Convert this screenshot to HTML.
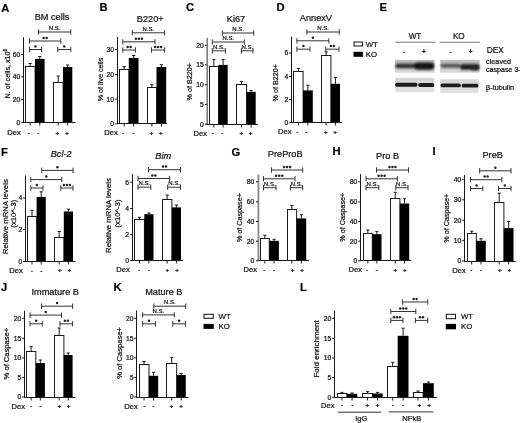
<!DOCTYPE html><html><head><meta charset="utf-8"><style>html,body{margin:0;padding:0;background:#fff;width:520px;height:423px;overflow:hidden}svg{display:block;will-change:transform}text{font-family:"Liberation Sans",sans-serif;stroke:#111;stroke-width:0.22px}</style></head><body>
<svg width="520" height="423" viewBox="0 0 520 423">
<rect width="520" height="423" fill="#fff"/>
<text x="1.3" y="11.5" font-size="11.2" text-anchor="start" font-weight="bold" font-style="normal" fill="#000">A</text>
<text x="99.6" y="11.3" font-size="11.2" text-anchor="start" font-weight="bold" font-style="normal" fill="#000">B</text>
<text x="186" y="11.3" font-size="11.2" text-anchor="start" font-weight="bold" font-style="normal" fill="#000">C</text>
<text x="276.4" y="11.3" font-size="11.2" text-anchor="start" font-weight="bold" font-style="normal" fill="#000">D</text>
<text x="379.5" y="11.3" font-size="11.2" text-anchor="start" font-weight="bold" font-style="normal" fill="#000">E</text>
<line x1="30.2" y1="66.6" x2="30.2" y2="63.5" stroke="#1a1a1a" stroke-width="1"/>
<line x1="28.6" y1="63.5" x2="31.8" y2="63.5" stroke="#1a1a1a" stroke-width="1"/>
<rect x="25.5" y="66.5" width="9.6" height="56" fill="#fff" stroke="#1a1a1a" stroke-width="1"/>
<line x1="30.2" y1="122.5" x2="30.2" y2="125.5" stroke="#1a1a1a" stroke-width="1"/>
<line x1="39.8" y1="58.9" x2="39.8" y2="56.5" stroke="#1a1a1a" stroke-width="1"/>
<line x1="38.2" y1="56.5" x2="41.4" y2="56.5" stroke="#1a1a1a" stroke-width="1"/>
<rect x="35" y="58.9" width="9.6" height="63.6" fill="#000"/>
<line x1="39.8" y1="122.5" x2="39.8" y2="125.5" stroke="#1a1a1a" stroke-width="1"/>
<line x1="58.25" y1="82" x2="58.25" y2="76" stroke="#1a1a1a" stroke-width="1"/>
<line x1="56.65" y1="76" x2="59.85" y2="76" stroke="#1a1a1a" stroke-width="1"/>
<rect x="53.5" y="82.5" width="9.6" height="40" fill="#fff" stroke="#1a1a1a" stroke-width="1"/>
<line x1="58.25" y1="122.5" x2="58.25" y2="125.5" stroke="#1a1a1a" stroke-width="1"/>
<line x1="67.65" y1="67" x2="67.65" y2="65" stroke="#1a1a1a" stroke-width="1"/>
<line x1="66.05" y1="65" x2="69.25" y2="65" stroke="#1a1a1a" stroke-width="1"/>
<rect x="63" y="67" width="9.3" height="55.5" fill="#000"/>
<line x1="67.65" y1="122.5" x2="67.65" y2="125.5" stroke="#1a1a1a" stroke-width="1"/>
<line x1="23.5" y1="37.2" x2="23.5" y2="123" stroke="#1a1a1a" stroke-width="1"/>
<line x1="23" y1="122.5" x2="75.4" y2="122.5" stroke="#1a1a1a" stroke-width="1"/>
<line x1="21.1" y1="122.4" x2="23.5" y2="122.4" stroke="#1a1a1a" stroke-width="1"/>
<text x="20.4" y="124.8" font-size="6.8" text-anchor="end" font-weight="normal" font-style="normal" fill="#111">0</text>
<line x1="21.1" y1="99.6" x2="23.5" y2="99.6" stroke="#1a1a1a" stroke-width="1"/>
<text x="20.4" y="102" font-size="6.8" text-anchor="end" font-weight="normal" font-style="normal" fill="#111">20</text>
<line x1="21.1" y1="76.8" x2="23.5" y2="76.8" stroke="#1a1a1a" stroke-width="1"/>
<text x="20.4" y="79.2" font-size="6.8" text-anchor="end" font-weight="normal" font-style="normal" fill="#111">40</text>
<line x1="21.1" y1="54.6" x2="23.5" y2="54.6" stroke="#1a1a1a" stroke-width="1"/>
<text x="20.4" y="57" font-size="6.8" text-anchor="end" font-weight="normal" font-style="normal" fill="#111">60</text>
<line x1="38.5" y1="32" x2="70.8" y2="32" stroke="#333" stroke-width="1"/>
<line x1="38.5" y1="29.3" x2="38.5" y2="34.7" stroke="#333" stroke-width="1"/>
<line x1="70.8" y1="29.3" x2="70.8" y2="34.7" stroke="#333" stroke-width="1"/>
<text x="54.65" y="30.2" font-size="6" text-anchor="middle" font-weight="normal" font-style="normal" fill="#222">N.S.</text>
<line x1="29.5" y1="41" x2="60.8" y2="41" stroke="#333" stroke-width="1"/>
<line x1="29.5" y1="38.3" x2="29.5" y2="43.7" stroke="#333" stroke-width="1"/>
<line x1="60.8" y1="38.3" x2="60.8" y2="43.7" stroke="#333" stroke-width="1"/>
<circle cx="43.65" cy="37.9" r="1.25" fill="#222"/>
<circle cx="46.65" cy="37.9" r="1.25" fill="#222"/>
<line x1="29.5" y1="49.5" x2="41.5" y2="49.5" stroke="#333" stroke-width="1"/>
<line x1="29.5" y1="46.8" x2="29.5" y2="52.2" stroke="#333" stroke-width="1"/>
<line x1="41.5" y1="46.8" x2="41.5" y2="52.2" stroke="#333" stroke-width="1"/>
<circle cx="35.5" cy="46.4" r="1.25" fill="#222"/>
<line x1="57.7" y1="49.5" x2="70.8" y2="49.5" stroke="#333" stroke-width="1"/>
<line x1="57.7" y1="46.8" x2="57.7" y2="52.2" stroke="#333" stroke-width="1"/>
<line x1="70.8" y1="46.8" x2="70.8" y2="52.2" stroke="#333" stroke-width="1"/>
<circle cx="64.25" cy="46.4" r="1.25" fill="#222"/>
<text x="20.8" y="135.4" font-size="7.6" text-anchor="end" font-weight="normal" font-style="normal" fill="#111">Dex</text>
<text x="28.6" y="134.8" font-size="5.4" text-anchor="middle" font-weight="bold" font-style="normal" fill="#111">-</text>
<text x="38.5" y="134.8" font-size="5.4" text-anchor="middle" font-weight="bold" font-style="normal" fill="#111">-</text>
<text x="57.2" y="134.6" font-size="6.2" text-anchor="middle" font-weight="bold" font-style="normal" fill="#111">+</text>
<text x="67" y="134.6" font-size="6.2" text-anchor="middle" font-weight="bold" font-style="normal" fill="#111">+</text>
<text x="52" y="20.1" font-size="9.2" text-anchor="middle" font-weight="normal" font-style="normal" fill="#111">BM cells</text>
<text transform="translate(7.2,73.6) rotate(-90)" x="0" y="2.59" font-size="7.2" text-anchor="middle" fill="#111">N. of cells, x10<tspan font-size="5" dy="-2.5">6</tspan></text>
<line x1="124.15" y1="69.2" x2="124.15" y2="66.5" stroke="#1a1a1a" stroke-width="1"/>
<line x1="122.55" y1="66.5" x2="125.75" y2="66.5" stroke="#1a1a1a" stroke-width="1"/>
<rect x="119.5" y="69.5" width="9.4" height="54" fill="#fff" stroke="#1a1a1a" stroke-width="1"/>
<line x1="124.15" y1="123.5" x2="124.15" y2="126.5" stroke="#1a1a1a" stroke-width="1"/>
<line x1="133.65" y1="58" x2="133.65" y2="55.5" stroke="#1a1a1a" stroke-width="1"/>
<line x1="132.05" y1="55.5" x2="135.25" y2="55.5" stroke="#1a1a1a" stroke-width="1"/>
<rect x="128.8" y="58" width="9.7" height="65.5" fill="#000"/>
<line x1="133.65" y1="123.5" x2="133.65" y2="126.5" stroke="#1a1a1a" stroke-width="1"/>
<line x1="151.85" y1="87.3" x2="151.85" y2="84.7" stroke="#1a1a1a" stroke-width="1"/>
<line x1="150.25" y1="84.7" x2="153.45" y2="84.7" stroke="#1a1a1a" stroke-width="1"/>
<rect x="147.5" y="87.5" width="9.1" height="36" fill="#fff" stroke="#1a1a1a" stroke-width="1"/>
<line x1="151.85" y1="123.5" x2="151.85" y2="126.5" stroke="#1a1a1a" stroke-width="1"/>
<line x1="161.35" y1="67" x2="161.35" y2="64.7" stroke="#1a1a1a" stroke-width="1"/>
<line x1="159.75" y1="64.7" x2="162.95" y2="64.7" stroke="#1a1a1a" stroke-width="1"/>
<rect x="156.5" y="67" width="9.7" height="56.5" fill="#000"/>
<line x1="161.35" y1="123.5" x2="161.35" y2="126.5" stroke="#1a1a1a" stroke-width="1"/>
<line x1="117.5" y1="37" x2="117.5" y2="124" stroke="#1a1a1a" stroke-width="1"/>
<line x1="117" y1="123.5" x2="166.8" y2="123.5" stroke="#1a1a1a" stroke-width="1"/>
<line x1="115.1" y1="123.8" x2="117.5" y2="123.8" stroke="#1a1a1a" stroke-width="1"/>
<text x="114.1" y="126.2" font-size="6.8" text-anchor="end" font-weight="normal" font-style="normal" fill="#111">0</text>
<line x1="115.1" y1="99.2" x2="117.5" y2="99.2" stroke="#1a1a1a" stroke-width="1"/>
<text x="114.1" y="101.6" font-size="6.8" text-anchor="end" font-weight="normal" font-style="normal" fill="#111">10</text>
<line x1="115.1" y1="74.5" x2="117.5" y2="74.5" stroke="#1a1a1a" stroke-width="1"/>
<text x="114.1" y="76.9" font-size="6.8" text-anchor="end" font-weight="normal" font-style="normal" fill="#111">20</text>
<line x1="115.1" y1="49.6" x2="117.5" y2="49.6" stroke="#1a1a1a" stroke-width="1"/>
<text x="114.1" y="52" font-size="6.8" text-anchor="end" font-weight="normal" font-style="normal" fill="#111">30</text>
<line x1="132.3" y1="32.8" x2="164.6" y2="32.8" stroke="#333" stroke-width="1"/>
<line x1="132.3" y1="30.1" x2="132.3" y2="35.5" stroke="#333" stroke-width="1"/>
<line x1="164.6" y1="30.1" x2="164.6" y2="35.5" stroke="#333" stroke-width="1"/>
<text x="148.45" y="31" font-size="6" text-anchor="middle" font-weight="normal" font-style="normal" fill="#222">N.S.</text>
<line x1="122.8" y1="41.8" x2="155" y2="41.8" stroke="#333" stroke-width="1"/>
<line x1="122.8" y1="39.1" x2="122.8" y2="44.5" stroke="#333" stroke-width="1"/>
<line x1="155" y1="39.1" x2="155" y2="44.5" stroke="#333" stroke-width="1"/>
<circle cx="135.9" cy="38.7" r="1.25" fill="#222"/>
<circle cx="138.9" cy="38.7" r="1.25" fill="#222"/>
<circle cx="141.9" cy="38.7" r="1.25" fill="#222"/>
<line x1="122.8" y1="50" x2="135.4" y2="50" stroke="#333" stroke-width="1"/>
<line x1="122.8" y1="47.3" x2="122.8" y2="52.7" stroke="#333" stroke-width="1"/>
<line x1="135.4" y1="47.3" x2="135.4" y2="52.7" stroke="#333" stroke-width="1"/>
<circle cx="127.6" cy="46.9" r="1.25" fill="#222"/>
<circle cx="130.6" cy="46.9" r="1.25" fill="#222"/>
<line x1="151.5" y1="50" x2="164.6" y2="50" stroke="#333" stroke-width="1"/>
<line x1="151.5" y1="47.3" x2="151.5" y2="52.7" stroke="#333" stroke-width="1"/>
<line x1="164.6" y1="47.3" x2="164.6" y2="52.7" stroke="#333" stroke-width="1"/>
<circle cx="155.05" cy="46.9" r="1.25" fill="#222"/>
<circle cx="158.05" cy="46.9" r="1.25" fill="#222"/>
<circle cx="161.05" cy="46.9" r="1.25" fill="#222"/>
<text x="117.7" y="135.4" font-size="7.6" text-anchor="end" font-weight="normal" font-style="normal" fill="#111">Dex</text>
<text x="123" y="134.8" font-size="5.4" text-anchor="middle" font-weight="bold" font-style="normal" fill="#111">-</text>
<text x="133.5" y="134.8" font-size="5.4" text-anchor="middle" font-weight="bold" font-style="normal" fill="#111">-</text>
<text x="151.5" y="134.6" font-size="6.2" text-anchor="middle" font-weight="bold" font-style="normal" fill="#111">+</text>
<text x="160.8" y="134.6" font-size="6.2" text-anchor="middle" font-weight="bold" font-style="normal" fill="#111">+</text>
<text x="150.2" y="21.5" font-size="9.2" text-anchor="middle" font-weight="normal" font-style="normal" fill="#111">B220+</text>
<text transform="translate(100.2,79.5) rotate(-90)" x="0" y="2.59" font-size="7.2" text-anchor="middle" fill="#111">% of live cells</text>
<line x1="213.85" y1="66.6" x2="213.85" y2="59.5" stroke="#1a1a1a" stroke-width="1"/>
<line x1="212.25" y1="59.5" x2="215.45" y2="59.5" stroke="#1a1a1a" stroke-width="1"/>
<rect x="209.5" y="66.5" width="9.1" height="58" fill="#fff" stroke="#1a1a1a" stroke-width="1"/>
<line x1="213.85" y1="124.5" x2="213.85" y2="127.5" stroke="#1a1a1a" stroke-width="1"/>
<line x1="223.1" y1="64.9" x2="223.1" y2="59.5" stroke="#1a1a1a" stroke-width="1"/>
<line x1="221.5" y1="59.5" x2="224.7" y2="59.5" stroke="#1a1a1a" stroke-width="1"/>
<rect x="218.5" y="64.9" width="9.2" height="59.6" fill="#000"/>
<line x1="223.1" y1="124.5" x2="223.1" y2="127.5" stroke="#1a1a1a" stroke-width="1"/>
<line x1="241.55" y1="84.5" x2="241.55" y2="81.5" stroke="#1a1a1a" stroke-width="1"/>
<line x1="239.95" y1="81.5" x2="243.15" y2="81.5" stroke="#1a1a1a" stroke-width="1"/>
<rect x="236.5" y="84.5" width="10.1" height="40" fill="#fff" stroke="#1a1a1a" stroke-width="1"/>
<line x1="241.55" y1="124.5" x2="241.55" y2="127.5" stroke="#1a1a1a" stroke-width="1"/>
<line x1="251.1" y1="91.9" x2="251.1" y2="90.5" stroke="#1a1a1a" stroke-width="1"/>
<line x1="249.5" y1="90.5" x2="252.7" y2="90.5" stroke="#1a1a1a" stroke-width="1"/>
<rect x="246.5" y="91.9" width="9.2" height="32.6" fill="#000"/>
<line x1="251.1" y1="124.5" x2="251.1" y2="127.5" stroke="#1a1a1a" stroke-width="1"/>
<line x1="207.2" y1="37.7" x2="207.2" y2="125" stroke="#777" stroke-width="1.5"/>
<line x1="206.7" y1="124.5" x2="258" y2="124.5" stroke="#1a1a1a" stroke-width="1"/>
<line x1="204.8" y1="124.2" x2="207.2" y2="124.2" stroke="#1a1a1a" stroke-width="1"/>
<text x="203.7" y="126.6" font-size="6.8" text-anchor="end" font-weight="normal" font-style="normal" fill="#111">0</text>
<line x1="204.8" y1="104.4" x2="207.2" y2="104.4" stroke="#1a1a1a" stroke-width="1"/>
<text x="203.7" y="106.8" font-size="6.8" text-anchor="end" font-weight="normal" font-style="normal" fill="#111">5</text>
<line x1="204.8" y1="84.7" x2="207.2" y2="84.7" stroke="#1a1a1a" stroke-width="1"/>
<text x="203.7" y="87.1" font-size="6.8" text-anchor="end" font-weight="normal" font-style="normal" fill="#111">10</text>
<line x1="204.8" y1="64.9" x2="207.2" y2="64.9" stroke="#1a1a1a" stroke-width="1"/>
<text x="203.7" y="67.3" font-size="6.8" text-anchor="end" font-weight="normal" font-style="normal" fill="#111">15</text>
<line x1="204.8" y1="45.3" x2="207.2" y2="45.3" stroke="#1a1a1a" stroke-width="1"/>
<text x="203.7" y="47.7" font-size="6.8" text-anchor="end" font-weight="normal" font-style="normal" fill="#111">20</text>
<line x1="222.3" y1="33" x2="253.8" y2="33" stroke="#333" stroke-width="1"/>
<line x1="222.3" y1="30.3" x2="222.3" y2="35.7" stroke="#333" stroke-width="1"/>
<line x1="253.8" y1="30.3" x2="253.8" y2="35.7" stroke="#333" stroke-width="1"/>
<text x="238.05" y="31.2" font-size="6" text-anchor="middle" font-weight="normal" font-style="normal" fill="#222">N.S.</text>
<line x1="212.3" y1="42" x2="244.3" y2="42" stroke="#333" stroke-width="1"/>
<line x1="212.3" y1="39.3" x2="212.3" y2="44.7" stroke="#333" stroke-width="1"/>
<line x1="244.3" y1="39.3" x2="244.3" y2="44.7" stroke="#333" stroke-width="1"/>
<text x="228.3" y="40.2" font-size="6" text-anchor="middle" font-weight="normal" font-style="normal" fill="#222">N.S.</text>
<line x1="212.3" y1="50.8" x2="225.4" y2="50.8" stroke="#333" stroke-width="1"/>
<line x1="212.3" y1="48.1" x2="212.3" y2="53.5" stroke="#333" stroke-width="1"/>
<line x1="225.4" y1="48.1" x2="225.4" y2="53.5" stroke="#333" stroke-width="1"/>
<text x="218.85" y="49" font-size="6" text-anchor="middle" font-weight="normal" font-style="normal" fill="#222">N.S.</text>
<line x1="241.5" y1="50.8" x2="253" y2="50.8" stroke="#333" stroke-width="1"/>
<line x1="241.5" y1="48.1" x2="241.5" y2="53.5" stroke="#333" stroke-width="1"/>
<line x1="253" y1="48.1" x2="253" y2="53.5" stroke="#333" stroke-width="1"/>
<text x="247.25" y="49" font-size="6" text-anchor="middle" font-weight="normal" font-style="normal" fill="#222">N.S.</text>
<text x="207" y="135.8" font-size="7.6" text-anchor="end" font-weight="normal" font-style="normal" fill="#111">Dex</text>
<text x="212.6" y="135.2" font-size="5.4" text-anchor="middle" font-weight="bold" font-style="normal" fill="#111">-</text>
<text x="222.3" y="135.2" font-size="5.4" text-anchor="middle" font-weight="bold" font-style="normal" fill="#111">-</text>
<text x="241.2" y="135" font-size="6.2" text-anchor="middle" font-weight="bold" font-style="normal" fill="#111">+</text>
<text x="250.5" y="135" font-size="6.2" text-anchor="middle" font-weight="bold" font-style="normal" fill="#111">+</text>
<text x="236" y="22" font-size="9.2" text-anchor="middle" font-weight="normal" font-style="normal" fill="#111">Ki67</text>
<text transform="translate(189.8,81.8) rotate(-90)" x="0" y="2.59" font-size="7.2" text-anchor="middle" fill="#111">% of B220+</text>
<line x1="298.4" y1="71.9" x2="298.4" y2="68.4" stroke="#1a1a1a" stroke-width="1"/>
<line x1="296.8" y1="68.4" x2="300" y2="68.4" stroke="#1a1a1a" stroke-width="1"/>
<rect x="293.5" y="71.5" width="9.6" height="51" fill="#fff" stroke="#1a1a1a" stroke-width="1"/>
<line x1="298.4" y1="122.5" x2="298.4" y2="125.5" stroke="#1a1a1a" stroke-width="1"/>
<line x1="307.9" y1="90.4" x2="307.9" y2="85.3" stroke="#1a1a1a" stroke-width="1"/>
<line x1="306.3" y1="85.3" x2="309.5" y2="85.3" stroke="#1a1a1a" stroke-width="1"/>
<rect x="303" y="90.4" width="9.8" height="32.1" fill="#000"/>
<line x1="307.9" y1="122.5" x2="307.9" y2="125.5" stroke="#1a1a1a" stroke-width="1"/>
<line x1="326.15" y1="55.5" x2="326.15" y2="51.9" stroke="#1a1a1a" stroke-width="1"/>
<line x1="324.55" y1="51.9" x2="327.75" y2="51.9" stroke="#1a1a1a" stroke-width="1"/>
<rect x="321.5" y="55.5" width="9.4" height="67" fill="#fff" stroke="#1a1a1a" stroke-width="1"/>
<line x1="326.15" y1="122.5" x2="326.15" y2="125.5" stroke="#1a1a1a" stroke-width="1"/>
<line x1="335.4" y1="83.8" x2="335.4" y2="77.6" stroke="#1a1a1a" stroke-width="1"/>
<line x1="333.8" y1="77.6" x2="337" y2="77.6" stroke="#1a1a1a" stroke-width="1"/>
<rect x="330.8" y="83.8" width="9.2" height="38.7" fill="#000"/>
<line x1="335.4" y1="122.5" x2="335.4" y2="125.5" stroke="#1a1a1a" stroke-width="1"/>
<line x1="291.5" y1="36.5" x2="291.5" y2="123" stroke="#1a1a1a" stroke-width="1"/>
<line x1="291" y1="122.5" x2="342" y2="122.5" stroke="#1a1a1a" stroke-width="1"/>
<line x1="289.1" y1="122.6" x2="291.5" y2="122.6" stroke="#1a1a1a" stroke-width="1"/>
<text x="288.3" y="125" font-size="6.8" text-anchor="end" font-weight="normal" font-style="normal" fill="#111">0</text>
<line x1="289.1" y1="99.6" x2="291.5" y2="99.6" stroke="#1a1a1a" stroke-width="1"/>
<text x="288.3" y="102" font-size="6.8" text-anchor="end" font-weight="normal" font-style="normal" fill="#111">2</text>
<line x1="289.1" y1="76.4" x2="291.5" y2="76.4" stroke="#1a1a1a" stroke-width="1"/>
<text x="288.3" y="78.8" font-size="6.8" text-anchor="end" font-weight="normal" font-style="normal" fill="#111">4</text>
<line x1="289.1" y1="53" x2="291.5" y2="53" stroke="#1a1a1a" stroke-width="1"/>
<text x="288.3" y="55.4" font-size="6.8" text-anchor="end" font-weight="normal" font-style="normal" fill="#111">6</text>
<line x1="306.9" y1="32" x2="339.2" y2="32" stroke="#333" stroke-width="1"/>
<line x1="306.9" y1="29.3" x2="306.9" y2="34.7" stroke="#333" stroke-width="1"/>
<line x1="339.2" y1="29.3" x2="339.2" y2="34.7" stroke="#333" stroke-width="1"/>
<text x="323.05" y="30.2" font-size="6" text-anchor="middle" font-weight="normal" font-style="normal" fill="#222">N.S.</text>
<line x1="296.9" y1="40.8" x2="328.9" y2="40.8" stroke="#333" stroke-width="1"/>
<line x1="296.9" y1="38.1" x2="296.9" y2="43.5" stroke="#333" stroke-width="1"/>
<line x1="328.9" y1="38.1" x2="328.9" y2="43.5" stroke="#333" stroke-width="1"/>
<circle cx="312.9" cy="37.7" r="1.25" fill="#222"/>
<line x1="296.9" y1="49.2" x2="310" y2="49.2" stroke="#333" stroke-width="1"/>
<line x1="296.9" y1="46.5" x2="296.9" y2="51.9" stroke="#333" stroke-width="1"/>
<line x1="310" y1="46.5" x2="310" y2="51.9" stroke="#333" stroke-width="1"/>
<circle cx="303.45" cy="46.1" r="1.25" fill="#222"/>
<line x1="325.8" y1="49.2" x2="339" y2="49.2" stroke="#333" stroke-width="1"/>
<line x1="325.8" y1="46.5" x2="325.8" y2="51.9" stroke="#333" stroke-width="1"/>
<line x1="339" y1="46.5" x2="339" y2="51.9" stroke="#333" stroke-width="1"/>
<circle cx="330.9" cy="46.1" r="1.25" fill="#222"/>
<circle cx="333.9" cy="46.1" r="1.25" fill="#222"/>
<text x="291.5" y="134.4" font-size="7.6" text-anchor="end" font-weight="normal" font-style="normal" fill="#111">Dex</text>
<text x="297.3" y="133.8" font-size="5.4" text-anchor="middle" font-weight="bold" font-style="normal" fill="#111">-</text>
<text x="306.5" y="133.8" font-size="5.4" text-anchor="middle" font-weight="bold" font-style="normal" fill="#111">-</text>
<text x="325.8" y="133.6" font-size="6.2" text-anchor="middle" font-weight="bold" font-style="normal" fill="#111">+</text>
<text x="335" y="133.6" font-size="6.2" text-anchor="middle" font-weight="bold" font-style="normal" fill="#111">+</text>
<text x="315.9" y="21.2" font-size="9.2" text-anchor="middle" font-weight="normal" font-style="normal" fill="#111">AnnexV</text>
<text transform="translate(275.2,82.7) rotate(-90)" x="0" y="2.59" font-size="7.2" text-anchor="middle" fill="#111">% of B220+</text>
<rect x="354" y="42" width="8.4" height="4" fill="#fff" stroke="#111" stroke-width="1"/>
<rect x="353.5" y="51.8" width="9.4" height="5" fill="#000"/>
<text x="365.7" y="46.9" font-size="7.8" text-anchor="start" font-weight="normal" font-style="normal" fill="#111">WT</text>
<text x="365.7" y="57.2" font-size="7.8" text-anchor="start" font-weight="normal" font-style="normal" fill="#111">KO</text>
<text x="415" y="38.6" font-size="8.2" text-anchor="middle" font-weight="normal" font-style="normal" fill="#111">WT</text>
<text x="458.8" y="38.8" font-size="8.2" text-anchor="middle" font-weight="normal" font-style="normal" fill="#111">KO</text>
<line x1="395.4" y1="42.2" x2="435.4" y2="42.2" stroke="#777" stroke-width="1"/>
<line x1="439.5" y1="42.3" x2="479.8" y2="42.3" stroke="#777" stroke-width="1"/>
<text x="403.8" y="53.6" font-size="6" text-anchor="middle" font-weight="bold" font-style="normal" fill="#111">-</text>
<text x="423.8" y="54" font-size="6.4" text-anchor="middle" font-weight="bold" font-style="normal" fill="#111">+</text>
<text x="450.4" y="53.6" font-size="6" text-anchor="middle" font-weight="bold" font-style="normal" fill="#111">-</text>
<text x="470.7" y="54" font-size="6.4" text-anchor="middle" font-weight="bold" font-style="normal" fill="#111">+</text>
<text x="486.8" y="53.2" font-size="8.2" text-anchor="start" font-weight="normal" font-style="normal" fill="#111">DEX</text>
<text x="486" y="64.4" font-size="7.3" text-anchor="start" font-weight="normal" font-style="normal" fill="#111">cleaved</text>
<text x="486" y="72.4" font-size="7.1" text-anchor="start" font-weight="normal" font-style="normal" fill="#111">caspase 3-</text>
<text x="486" y="90" font-size="7.3" text-anchor="start" font-weight="normal" font-style="normal" fill="#111">&#946;-tubulin</text>
<defs><filter id="bl" x="-20%" y="-50%" width="140%" height="200%"><feGaussianBlur stdDeviation="1.1"/></filter><filter id="bl2" x="-20%" y="-50%" width="140%" height="200%"><feGaussianBlur stdDeviation="0.75"/></filter></defs>
<defs><linearGradient id="g1" x1="0" y1="0" x2="0" y2="1"><stop offset="0" stop-color="#bdbdbd"/><stop offset="0.5" stop-color="#c6c6c6"/><stop offset="1" stop-color="#dcdcdc"/></linearGradient><linearGradient id="g2" x1="0" y1="0" x2="0" y2="1"><stop offset="0" stop-color="#d4d4d4"/><stop offset="1" stop-color="#e2e2e2"/></linearGradient></defs>
<rect x="395" y="59.8" width="39.4" height="13" fill="url(#g1)"/>
<rect x="440.2" y="59.8" width="39.4" height="13" fill="url(#g1)"/>
<rect x="395" y="77.8" width="39.4" height="14.4" fill="url(#g2)"/>
<rect x="440.2" y="79.3" width="38.6" height="13.8" fill="url(#g2)"/>
<g filter="url(#bl)">
<rect x="395.4" y="63.6" width="22" height="4.6" rx="2" fill="#363636"/>
<rect x="414.2" y="62.4" width="20" height="7.4" rx="3.2" fill="#121212"/>
<rect x="440.6" y="63.8" width="20" height="3.9" rx="1.8" fill="#575757"/>
<rect x="460.2" y="64.0" width="19.2" height="5.8" rx="2.6" fill="#202020"/>
<rect x="470" y="64.6" width="9.4" height="6.0" rx="2" fill="#202020"/>
</g>
<g filter="url(#bl2)">
<rect x="395.3" y="82.8" width="22" height="4" rx="1.5" fill="#1c1c1c"/>
<rect x="418.4" y="82.9" width="15.8" height="4" rx="1.5" fill="#1c1c1c"/>
<rect x="440.5" y="83.6" width="20.2" height="3.7" rx="1.5" fill="#1e1e1e"/>
<rect x="461.6" y="83.8" width="16.8" height="3.7" rx="1.5" fill="#1e1e1e"/>
</g>
<text x="1" y="155.7" font-size="11.2" text-anchor="start" font-weight="bold" font-style="normal" fill="#000">F</text>
<text x="231.5" y="155.8" font-size="11.2" text-anchor="start" font-weight="bold" font-style="normal" fill="#000">G</text>
<text x="332.6" y="155.1" font-size="11.2" text-anchor="start" font-weight="bold" font-style="normal" fill="#000">H</text>
<text x="432.6" y="155.3" font-size="11.2" text-anchor="start" font-weight="bold" font-style="normal" fill="#000">I</text>
<line x1="32" y1="216.5" x2="32" y2="210.3" stroke="#1a1a1a" stroke-width="1"/>
<line x1="30.4" y1="210.3" x2="33.6" y2="210.3" stroke="#1a1a1a" stroke-width="1"/>
<rect x="27.5" y="216.5" width="9.2" height="45" fill="#fff" stroke="#1a1a1a" stroke-width="1"/>
<line x1="32" y1="261.5" x2="32" y2="264.5" stroke="#1a1a1a" stroke-width="1"/>
<line x1="41.2" y1="196.9" x2="41.2" y2="191.8" stroke="#1a1a1a" stroke-width="1"/>
<line x1="39.6" y1="191.8" x2="42.8" y2="191.8" stroke="#1a1a1a" stroke-width="1"/>
<rect x="36.6" y="196.9" width="9.2" height="64.6" fill="#000"/>
<line x1="41.2" y1="261.5" x2="41.2" y2="264.5" stroke="#1a1a1a" stroke-width="1"/>
<line x1="59.2" y1="237.4" x2="59.2" y2="231.5" stroke="#1a1a1a" stroke-width="1"/>
<line x1="57.6" y1="231.5" x2="60.8" y2="231.5" stroke="#1a1a1a" stroke-width="1"/>
<rect x="54.5" y="237.5" width="9.4" height="24" fill="#fff" stroke="#1a1a1a" stroke-width="1"/>
<line x1="59.2" y1="261.5" x2="59.2" y2="264.5" stroke="#1a1a1a" stroke-width="1"/>
<line x1="68.4" y1="211.5" x2="68.4" y2="209.2" stroke="#1a1a1a" stroke-width="1"/>
<line x1="66.8" y1="209.2" x2="70" y2="209.2" stroke="#1a1a1a" stroke-width="1"/>
<rect x="63.8" y="211.5" width="9.2" height="50" fill="#000"/>
<line x1="68.4" y1="261.5" x2="68.4" y2="264.5" stroke="#1a1a1a" stroke-width="1"/>
<line x1="25.5" y1="175.5" x2="25.5" y2="262" stroke="#1a1a1a" stroke-width="1"/>
<line x1="25" y1="261.5" x2="75.4" y2="261.5" stroke="#1a1a1a" stroke-width="1"/>
<line x1="23.1" y1="261.5" x2="25.5" y2="261.5" stroke="#1a1a1a" stroke-width="1"/>
<text x="22.4" y="263.9" font-size="6.8" text-anchor="end" font-weight="normal" font-style="normal" fill="#111">0</text>
<line x1="23.1" y1="229.7" x2="25.5" y2="229.7" stroke="#1a1a1a" stroke-width="1"/>
<text x="22.4" y="232.1" font-size="6.8" text-anchor="end" font-weight="normal" font-style="normal" fill="#111">2</text>
<line x1="23.1" y1="198" x2="25.5" y2="198" stroke="#1a1a1a" stroke-width="1"/>
<text x="22.4" y="200.4" font-size="6.8" text-anchor="end" font-weight="normal" font-style="normal" fill="#111">4</text>
<line x1="41.8" y1="170.4" x2="73" y2="170.4" stroke="#333" stroke-width="1"/>
<line x1="41.8" y1="167.7" x2="41.8" y2="173.1" stroke="#333" stroke-width="1"/>
<line x1="73" y1="167.7" x2="73" y2="173.1" stroke="#333" stroke-width="1"/>
<circle cx="57.4" cy="167.3" r="1.25" fill="#222"/>
<line x1="30.8" y1="179.6" x2="61.8" y2="179.6" stroke="#333" stroke-width="1"/>
<line x1="30.8" y1="176.9" x2="30.8" y2="182.3" stroke="#333" stroke-width="1"/>
<line x1="61.8" y1="176.9" x2="61.8" y2="182.3" stroke="#333" stroke-width="1"/>
<circle cx="46.3" cy="176.5" r="1.25" fill="#222"/>
<line x1="30.8" y1="188" x2="43" y2="188" stroke="#333" stroke-width="1"/>
<line x1="30.8" y1="185.3" x2="30.8" y2="190.7" stroke="#333" stroke-width="1"/>
<line x1="43" y1="185.3" x2="43" y2="190.7" stroke="#333" stroke-width="1"/>
<circle cx="36.9" cy="184.9" r="1.25" fill="#222"/>
<line x1="60.8" y1="188" x2="73" y2="188" stroke="#333" stroke-width="1"/>
<line x1="60.8" y1="185.3" x2="60.8" y2="190.7" stroke="#333" stroke-width="1"/>
<line x1="73" y1="185.3" x2="73" y2="190.7" stroke="#333" stroke-width="1"/>
<circle cx="63.9" cy="184.9" r="1.25" fill="#222"/>
<circle cx="66.9" cy="184.9" r="1.25" fill="#222"/>
<circle cx="69.9" cy="184.9" r="1.25" fill="#222"/>
<text x="22.8" y="273.2" font-size="7.6" text-anchor="end" font-weight="normal" font-style="normal" fill="#111">Dex</text>
<text x="32" y="272.6" font-size="5.4" text-anchor="middle" font-weight="bold" font-style="normal" fill="#111">-</text>
<text x="41.5" y="272.6" font-size="5.4" text-anchor="middle" font-weight="bold" font-style="normal" fill="#111">-</text>
<text x="59.7" y="272.4" font-size="6.2" text-anchor="middle" font-weight="bold" font-style="normal" fill="#111">+</text>
<text x="69.2" y="272.4" font-size="6.2" text-anchor="middle" font-weight="bold" font-style="normal" fill="#111">+</text>
<text x="61.2" y="157.3" font-size="9.2" text-anchor="middle" font-weight="normal" font-style="italic" fill="#111">Bcl-2</text>
<text transform="translate(5.1,216.7) rotate(-90)" x="0" y="2.81" font-size="7.8" text-anchor="middle" fill="#111">Relative mRNA levels</text>
<text transform="translate(13.6,213.7) rotate(-90)" x="0" y="2.77" font-size="7.7" text-anchor="middle" fill="#111">(x10^-3)</text>
<line x1="139.45" y1="219.3" x2="139.45" y2="217.3" stroke="#1a1a1a" stroke-width="1"/>
<line x1="137.85" y1="217.3" x2="141.05" y2="217.3" stroke="#1a1a1a" stroke-width="1"/>
<rect x="134.5" y="219.5" width="9.9" height="41" fill="#fff" stroke="#1a1a1a" stroke-width="1"/>
<line x1="139.45" y1="260.5" x2="139.45" y2="263.5" stroke="#1a1a1a" stroke-width="1"/>
<line x1="148.9" y1="214.2" x2="148.9" y2="213" stroke="#1a1a1a" stroke-width="1"/>
<line x1="147.3" y1="213" x2="150.5" y2="213" stroke="#1a1a1a" stroke-width="1"/>
<rect x="144.3" y="214.2" width="9.2" height="46.3" fill="#000"/>
<line x1="148.9" y1="260.5" x2="148.9" y2="263.5" stroke="#1a1a1a" stroke-width="1"/>
<line x1="167.15" y1="199.2" x2="167.15" y2="195" stroke="#1a1a1a" stroke-width="1"/>
<line x1="165.55" y1="195" x2="168.75" y2="195" stroke="#1a1a1a" stroke-width="1"/>
<rect x="162.5" y="199.5" width="9.4" height="61" fill="#fff" stroke="#1a1a1a" stroke-width="1"/>
<line x1="167.15" y1="260.5" x2="167.15" y2="263.5" stroke="#1a1a1a" stroke-width="1"/>
<line x1="176.4" y1="207.4" x2="176.4" y2="205" stroke="#1a1a1a" stroke-width="1"/>
<line x1="174.8" y1="205" x2="178" y2="205" stroke="#1a1a1a" stroke-width="1"/>
<rect x="171.8" y="207.4" width="9.2" height="53.1" fill="#000"/>
<line x1="176.4" y1="260.5" x2="176.4" y2="263.5" stroke="#1a1a1a" stroke-width="1"/>
<line x1="132.5" y1="173.9" x2="132.5" y2="261" stroke="#1a1a1a" stroke-width="1"/>
<line x1="132" y1="260.5" x2="183" y2="260.5" stroke="#1a1a1a" stroke-width="1"/>
<line x1="130.1" y1="260.6" x2="132.5" y2="260.6" stroke="#1a1a1a" stroke-width="1"/>
<text x="129" y="263" font-size="6.8" text-anchor="end" font-weight="normal" font-style="normal" fill="#111">0</text>
<line x1="130.1" y1="234.6" x2="132.5" y2="234.6" stroke="#1a1a1a" stroke-width="1"/>
<text x="129" y="237" font-size="6.8" text-anchor="end" font-weight="normal" font-style="normal" fill="#111">2</text>
<line x1="130.1" y1="208.5" x2="132.5" y2="208.5" stroke="#1a1a1a" stroke-width="1"/>
<text x="129" y="210.9" font-size="6.8" text-anchor="end" font-weight="normal" font-style="normal" fill="#111">4</text>
<line x1="130.1" y1="182.2" x2="132.5" y2="182.2" stroke="#1a1a1a" stroke-width="1"/>
<text x="129" y="184.6" font-size="6.8" text-anchor="end" font-weight="normal" font-style="normal" fill="#111">6</text>
<line x1="148.5" y1="169.7" x2="180.5" y2="169.7" stroke="#333" stroke-width="1"/>
<line x1="148.5" y1="167" x2="148.5" y2="172.4" stroke="#333" stroke-width="1"/>
<line x1="180.5" y1="167" x2="180.5" y2="172.4" stroke="#333" stroke-width="1"/>
<circle cx="163" cy="166.6" r="1.25" fill="#222"/>
<circle cx="166" cy="166.6" r="1.25" fill="#222"/>
<line x1="138" y1="178.5" x2="169.7" y2="178.5" stroke="#333" stroke-width="1"/>
<line x1="138" y1="175.8" x2="138" y2="181.2" stroke="#333" stroke-width="1"/>
<line x1="169.7" y1="175.8" x2="169.7" y2="181.2" stroke="#333" stroke-width="1"/>
<circle cx="152.35" cy="175.4" r="1.25" fill="#222"/>
<circle cx="155.35" cy="175.4" r="1.25" fill="#222"/>
<line x1="138" y1="187.2" x2="150.8" y2="187.2" stroke="#333" stroke-width="1"/>
<line x1="138" y1="184.5" x2="138" y2="189.9" stroke="#333" stroke-width="1"/>
<line x1="150.8" y1="184.5" x2="150.8" y2="189.9" stroke="#333" stroke-width="1"/>
<text x="144.4" y="185.4" font-size="6" text-anchor="middle" font-weight="normal" font-style="normal" fill="#222">N.S.</text>
<line x1="167.7" y1="187.2" x2="180.5" y2="187.2" stroke="#333" stroke-width="1"/>
<line x1="167.7" y1="184.5" x2="167.7" y2="189.9" stroke="#333" stroke-width="1"/>
<line x1="180.5" y1="184.5" x2="180.5" y2="189.9" stroke="#333" stroke-width="1"/>
<text x="174.1" y="185.4" font-size="6" text-anchor="middle" font-weight="normal" font-style="normal" fill="#222">N.S.</text>
<text x="129.8" y="272.4" font-size="7.6" text-anchor="end" font-weight="normal" font-style="normal" fill="#111">Dex</text>
<text x="138.8" y="271.8" font-size="5.4" text-anchor="middle" font-weight="bold" font-style="normal" fill="#111">-</text>
<text x="149" y="271.8" font-size="5.4" text-anchor="middle" font-weight="bold" font-style="normal" fill="#111">-</text>
<text x="167.3" y="271.6" font-size="6.2" text-anchor="middle" font-weight="bold" font-style="normal" fill="#111">+</text>
<text x="177" y="271.6" font-size="6.2" text-anchor="middle" font-weight="bold" font-style="normal" fill="#111">+</text>
<text x="163.2" y="158.5" font-size="9.2" text-anchor="middle" font-weight="normal" font-style="italic" fill="#111">Bim</text>
<text transform="translate(108.6,215.5) rotate(-90)" x="0" y="2.81" font-size="7.8" text-anchor="middle" fill="#111">Relative mRNA levels</text>
<text transform="translate(116.9,213.5) rotate(-90)" x="0" y="2.77" font-size="7.7" text-anchor="middle" fill="#111">(x10^-3)</text>
<line x1="264.85" y1="238.4" x2="264.85" y2="235.3" stroke="#1a1a1a" stroke-width="1"/>
<line x1="263.25" y1="235.3" x2="266.45" y2="235.3" stroke="#1a1a1a" stroke-width="1"/>
<rect x="260.5" y="238.5" width="8.8" height="22" fill="#fff" stroke="#1a1a1a" stroke-width="1"/>
<line x1="264.85" y1="260.5" x2="264.85" y2="263.5" stroke="#1a1a1a" stroke-width="1"/>
<line x1="274.05" y1="240.8" x2="274.05" y2="239.3" stroke="#1a1a1a" stroke-width="1"/>
<line x1="272.45" y1="239.3" x2="275.65" y2="239.3" stroke="#1a1a1a" stroke-width="1"/>
<rect x="269.2" y="240.8" width="9.7" height="19.7" fill="#000"/>
<line x1="274.05" y1="260.5" x2="274.05" y2="263.5" stroke="#1a1a1a" stroke-width="1"/>
<line x1="291.85" y1="209.6" x2="291.85" y2="205.5" stroke="#1a1a1a" stroke-width="1"/>
<line x1="290.25" y1="205.5" x2="293.45" y2="205.5" stroke="#1a1a1a" stroke-width="1"/>
<rect x="287.5" y="209.5" width="9.1" height="51" fill="#fff" stroke="#1a1a1a" stroke-width="1"/>
<line x1="291.85" y1="260.5" x2="291.85" y2="263.5" stroke="#1a1a1a" stroke-width="1"/>
<line x1="301.35" y1="218.4" x2="301.35" y2="214.7" stroke="#1a1a1a" stroke-width="1"/>
<line x1="299.75" y1="214.7" x2="302.95" y2="214.7" stroke="#1a1a1a" stroke-width="1"/>
<rect x="296.5" y="218.4" width="9.7" height="42.1" fill="#000"/>
<line x1="301.35" y1="260.5" x2="301.35" y2="263.5" stroke="#1a1a1a" stroke-width="1"/>
<line x1="258.4" y1="174.6" x2="258.4" y2="261" stroke="#888" stroke-width="1.8"/>
<line x1="257.9" y1="260.5" x2="308.9" y2="260.5" stroke="#1a1a1a" stroke-width="1"/>
<line x1="256" y1="260.8" x2="258.4" y2="260.8" stroke="#1a1a1a" stroke-width="1"/>
<text x="254.2" y="263.2" font-size="6.8" text-anchor="end" font-weight="normal" font-style="normal" fill="#111">0</text>
<line x1="256" y1="241.2" x2="258.4" y2="241.2" stroke="#1a1a1a" stroke-width="1"/>
<text x="254.2" y="243.6" font-size="6.8" text-anchor="end" font-weight="normal" font-style="normal" fill="#111">20</text>
<line x1="256" y1="221.5" x2="258.4" y2="221.5" stroke="#1a1a1a" stroke-width="1"/>
<text x="254.2" y="223.9" font-size="6.8" text-anchor="end" font-weight="normal" font-style="normal" fill="#111">40</text>
<line x1="256" y1="201.9" x2="258.4" y2="201.9" stroke="#1a1a1a" stroke-width="1"/>
<text x="254.2" y="204.3" font-size="6.8" text-anchor="end" font-weight="normal" font-style="normal" fill="#111">60</text>
<line x1="256" y1="181.8" x2="258.4" y2="181.8" stroke="#1a1a1a" stroke-width="1"/>
<text x="254.2" y="184.2" font-size="6.8" text-anchor="end" font-weight="normal" font-style="normal" fill="#111">80</text>
<line x1="271.5" y1="170" x2="302.7" y2="170" stroke="#333" stroke-width="1"/>
<line x1="271.5" y1="167.3" x2="271.5" y2="172.7" stroke="#333" stroke-width="1"/>
<line x1="302.7" y1="167.3" x2="302.7" y2="172.7" stroke="#333" stroke-width="1"/>
<circle cx="284.1" cy="166.9" r="1.25" fill="#222"/>
<circle cx="287.1" cy="166.9" r="1.25" fill="#222"/>
<circle cx="290.1" cy="166.9" r="1.25" fill="#222"/>
<line x1="263.5" y1="178.8" x2="295" y2="178.8" stroke="#333" stroke-width="1"/>
<line x1="263.5" y1="176.1" x2="263.5" y2="181.5" stroke="#333" stroke-width="1"/>
<line x1="295" y1="176.1" x2="295" y2="181.5" stroke="#333" stroke-width="1"/>
<circle cx="276.25" cy="175.7" r="1.25" fill="#222"/>
<circle cx="279.25" cy="175.7" r="1.25" fill="#222"/>
<circle cx="282.25" cy="175.7" r="1.25" fill="#222"/>
<line x1="263.5" y1="187.7" x2="276" y2="187.7" stroke="#333" stroke-width="1"/>
<line x1="263.5" y1="185" x2="263.5" y2="190.4" stroke="#333" stroke-width="1"/>
<line x1="276" y1="185" x2="276" y2="190.4" stroke="#333" stroke-width="1"/>
<text x="269.75" y="185.9" font-size="6" text-anchor="middle" font-weight="normal" font-style="normal" fill="#222">N.S.</text>
<line x1="290.4" y1="187.7" x2="302.7" y2="187.7" stroke="#333" stroke-width="1"/>
<line x1="290.4" y1="185" x2="290.4" y2="190.4" stroke="#333" stroke-width="1"/>
<line x1="302.7" y1="185" x2="302.7" y2="190.4" stroke="#333" stroke-width="1"/>
<text x="296.55" y="185.9" font-size="6" text-anchor="middle" font-weight="normal" font-style="normal" fill="#222">N.S.</text>
<text x="257" y="272.4" font-size="7.6" text-anchor="end" font-weight="normal" font-style="normal" fill="#111">Dex</text>
<text x="264.4" y="271.8" font-size="5.4" text-anchor="middle" font-weight="bold" font-style="normal" fill="#111">-</text>
<text x="274" y="271.8" font-size="5.4" text-anchor="middle" font-weight="bold" font-style="normal" fill="#111">-</text>
<text x="292.5" y="271.6" font-size="6.2" text-anchor="middle" font-weight="bold" font-style="normal" fill="#111">+</text>
<text x="302" y="271.6" font-size="6.2" text-anchor="middle" font-weight="bold" font-style="normal" fill="#111">+</text>
<text x="285.2" y="156.6" font-size="9.2" text-anchor="middle" font-weight="normal" font-style="normal" fill="#111">PreProB</text>
<text transform="translate(239.6,217.6) rotate(-90)" x="0" y="2.59" font-size="7.2" text-anchor="middle" fill="#111">% of Caspase+</text>
<line x1="367.85" y1="233.2" x2="367.85" y2="230" stroke="#1a1a1a" stroke-width="1"/>
<line x1="366.25" y1="230" x2="369.45" y2="230" stroke="#1a1a1a" stroke-width="1"/>
<rect x="363.5" y="233.5" width="8.8" height="27" fill="#fff" stroke="#1a1a1a" stroke-width="1"/>
<line x1="367.85" y1="260.5" x2="367.85" y2="263.5" stroke="#1a1a1a" stroke-width="1"/>
<line x1="376.85" y1="234.2" x2="376.85" y2="231.6" stroke="#1a1a1a" stroke-width="1"/>
<line x1="375.25" y1="231.6" x2="378.45" y2="231.6" stroke="#1a1a1a" stroke-width="1"/>
<rect x="372.2" y="234.2" width="9.3" height="26.3" fill="#000"/>
<line x1="376.85" y1="260.5" x2="376.85" y2="263.5" stroke="#1a1a1a" stroke-width="1"/>
<line x1="395.25" y1="198.1" x2="395.25" y2="192.3" stroke="#1a1a1a" stroke-width="1"/>
<line x1="393.65" y1="192.3" x2="396.85" y2="192.3" stroke="#1a1a1a" stroke-width="1"/>
<rect x="390.5" y="198.5" width="9.4" height="62" fill="#fff" stroke="#1a1a1a" stroke-width="1"/>
<line x1="395.25" y1="260.5" x2="395.25" y2="263.5" stroke="#1a1a1a" stroke-width="1"/>
<line x1="404.5" y1="203.5" x2="404.5" y2="198.8" stroke="#1a1a1a" stroke-width="1"/>
<line x1="402.9" y1="198.8" x2="406.1" y2="198.8" stroke="#1a1a1a" stroke-width="1"/>
<rect x="399.8" y="203.5" width="9.4" height="57" fill="#000"/>
<line x1="404.5" y1="260.5" x2="404.5" y2="263.5" stroke="#1a1a1a" stroke-width="1"/>
<line x1="360.5" y1="174.2" x2="360.5" y2="261" stroke="#1a1a1a" stroke-width="1"/>
<line x1="360" y1="260.5" x2="411.3" y2="260.5" stroke="#1a1a1a" stroke-width="1"/>
<line x1="358.1" y1="260.8" x2="360.5" y2="260.8" stroke="#1a1a1a" stroke-width="1"/>
<text x="357.4" y="263.2" font-size="6.8" text-anchor="end" font-weight="normal" font-style="normal" fill="#111">0</text>
<line x1="358.1" y1="241.2" x2="360.5" y2="241.2" stroke="#1a1a1a" stroke-width="1"/>
<text x="357.4" y="243.6" font-size="6.8" text-anchor="end" font-weight="normal" font-style="normal" fill="#111">20</text>
<line x1="358.1" y1="221.5" x2="360.5" y2="221.5" stroke="#1a1a1a" stroke-width="1"/>
<text x="357.4" y="223.9" font-size="6.8" text-anchor="end" font-weight="normal" font-style="normal" fill="#111">40</text>
<line x1="358.1" y1="201.9" x2="360.5" y2="201.9" stroke="#1a1a1a" stroke-width="1"/>
<text x="357.4" y="204.3" font-size="6.8" text-anchor="end" font-weight="normal" font-style="normal" fill="#111">60</text>
<line x1="358.1" y1="181.8" x2="360.5" y2="181.8" stroke="#1a1a1a" stroke-width="1"/>
<text x="357.4" y="184.2" font-size="6.8" text-anchor="end" font-weight="normal" font-style="normal" fill="#111">80</text>
<line x1="376.5" y1="170" x2="408.5" y2="170" stroke="#333" stroke-width="1"/>
<line x1="376.5" y1="167.3" x2="376.5" y2="172.7" stroke="#333" stroke-width="1"/>
<line x1="408.5" y1="167.3" x2="408.5" y2="172.7" stroke="#333" stroke-width="1"/>
<circle cx="389.5" cy="166.9" r="1.25" fill="#222"/>
<circle cx="392.5" cy="166.9" r="1.25" fill="#222"/>
<circle cx="395.5" cy="166.9" r="1.25" fill="#222"/>
<line x1="366" y1="178.8" x2="397.3" y2="178.8" stroke="#333" stroke-width="1"/>
<line x1="366" y1="176.1" x2="366" y2="181.5" stroke="#333" stroke-width="1"/>
<line x1="397.3" y1="176.1" x2="397.3" y2="181.5" stroke="#333" stroke-width="1"/>
<circle cx="378.65" cy="175.7" r="1.25" fill="#222"/>
<circle cx="381.65" cy="175.7" r="1.25" fill="#222"/>
<circle cx="384.65" cy="175.7" r="1.25" fill="#222"/>
<line x1="366" y1="187.7" x2="378.8" y2="187.7" stroke="#333" stroke-width="1"/>
<line x1="366" y1="185" x2="366" y2="190.4" stroke="#333" stroke-width="1"/>
<line x1="378.8" y1="185" x2="378.8" y2="190.4" stroke="#333" stroke-width="1"/>
<text x="372.4" y="185.9" font-size="6" text-anchor="middle" font-weight="normal" font-style="normal" fill="#222">N.S.</text>
<line x1="395.8" y1="187.7" x2="408" y2="187.7" stroke="#333" stroke-width="1"/>
<line x1="395.8" y1="185" x2="395.8" y2="190.4" stroke="#333" stroke-width="1"/>
<line x1="408" y1="185" x2="408" y2="190.4" stroke="#333" stroke-width="1"/>
<text x="401.9" y="185.9" font-size="6" text-anchor="middle" font-weight="normal" font-style="normal" fill="#222">N.S.</text>
<text x="362" y="272.4" font-size="7.6" text-anchor="end" font-weight="normal" font-style="normal" fill="#111">Dex</text>
<text x="367.2" y="271.8" font-size="5.4" text-anchor="middle" font-weight="bold" font-style="normal" fill="#111">-</text>
<text x="376.7" y="271.8" font-size="5.4" text-anchor="middle" font-weight="bold" font-style="normal" fill="#111">-</text>
<text x="395.4" y="271.6" font-size="6.2" text-anchor="middle" font-weight="bold" font-style="normal" fill="#111">+</text>
<text x="404.7" y="271.6" font-size="6.2" text-anchor="middle" font-weight="bold" font-style="normal" fill="#111">+</text>
<text x="387.6" y="159.2" font-size="9.2" text-anchor="middle" font-weight="normal" font-style="normal" fill="#111">Pro B</text>
<text transform="translate(342.5,217.2) rotate(-90)" x="0" y="2.59" font-size="7.2" text-anchor="middle" fill="#111">% of Caspase+</text>
<line x1="471.7" y1="233.8" x2="471.7" y2="231.2" stroke="#1a1a1a" stroke-width="1"/>
<line x1="470.1" y1="231.2" x2="473.3" y2="231.2" stroke="#1a1a1a" stroke-width="1"/>
<rect x="467.5" y="233.5" width="8.8" height="28" fill="#fff" stroke="#1a1a1a" stroke-width="1"/>
<line x1="471.7" y1="261.5" x2="471.7" y2="264.5" stroke="#1a1a1a" stroke-width="1"/>
<line x1="481" y1="240.8" x2="481" y2="238.8" stroke="#1a1a1a" stroke-width="1"/>
<line x1="479.4" y1="238.8" x2="482.6" y2="238.8" stroke="#1a1a1a" stroke-width="1"/>
<rect x="476.2" y="240.8" width="9.6" height="20.7" fill="#000"/>
<line x1="481" y1="261.5" x2="481" y2="264.5" stroke="#1a1a1a" stroke-width="1"/>
<line x1="499.2" y1="202.3" x2="499.2" y2="193.1" stroke="#1a1a1a" stroke-width="1"/>
<line x1="497.6" y1="193.1" x2="500.8" y2="193.1" stroke="#1a1a1a" stroke-width="1"/>
<rect x="494.5" y="202.5" width="9.4" height="59" fill="#fff" stroke="#1a1a1a" stroke-width="1"/>
<line x1="499.2" y1="261.5" x2="499.2" y2="264.5" stroke="#1a1a1a" stroke-width="1"/>
<line x1="508.65" y1="228.1" x2="508.65" y2="221.5" stroke="#1a1a1a" stroke-width="1"/>
<line x1="507.05" y1="221.5" x2="510.25" y2="221.5" stroke="#1a1a1a" stroke-width="1"/>
<rect x="503.8" y="228.1" width="9.7" height="33.4" fill="#000"/>
<line x1="508.65" y1="261.5" x2="508.65" y2="264.5" stroke="#1a1a1a" stroke-width="1"/>
<line x1="464.5" y1="175" x2="464.5" y2="262" stroke="#1a1a1a" stroke-width="1"/>
<line x1="464" y1="261.5" x2="515.7" y2="261.5" stroke="#1a1a1a" stroke-width="1"/>
<line x1="462.1" y1="261" x2="464.5" y2="261" stroke="#1a1a1a" stroke-width="1"/>
<text x="461.4" y="263.4" font-size="6.8" text-anchor="end" font-weight="normal" font-style="normal" fill="#111">0</text>
<line x1="462.1" y1="240.7" x2="464.5" y2="240.7" stroke="#1a1a1a" stroke-width="1"/>
<text x="461.4" y="243.1" font-size="6.8" text-anchor="end" font-weight="normal" font-style="normal" fill="#111">10</text>
<line x1="462.1" y1="220.3" x2="464.5" y2="220.3" stroke="#1a1a1a" stroke-width="1"/>
<text x="461.4" y="222.7" font-size="6.8" text-anchor="end" font-weight="normal" font-style="normal" fill="#111">20</text>
<line x1="462.1" y1="199.8" x2="464.5" y2="199.8" stroke="#1a1a1a" stroke-width="1"/>
<text x="461.4" y="202.2" font-size="6.8" text-anchor="end" font-weight="normal" font-style="normal" fill="#111">30</text>
<line x1="462.1" y1="179.3" x2="464.5" y2="179.3" stroke="#1a1a1a" stroke-width="1"/>
<text x="461.4" y="181.7" font-size="6.8" text-anchor="end" font-weight="normal" font-style="normal" fill="#111">40</text>
<line x1="479.7" y1="170.8" x2="511" y2="170.8" stroke="#333" stroke-width="1"/>
<line x1="479.7" y1="168.1" x2="479.7" y2="173.5" stroke="#333" stroke-width="1"/>
<line x1="511" y1="168.1" x2="511" y2="173.5" stroke="#333" stroke-width="1"/>
<circle cx="495.35" cy="167.7" r="1.25" fill="#222"/>
<line x1="470.5" y1="179.7" x2="501.8" y2="179.7" stroke="#333" stroke-width="1"/>
<line x1="470.5" y1="177" x2="470.5" y2="182.4" stroke="#333" stroke-width="1"/>
<line x1="501.8" y1="177" x2="501.8" y2="182.4" stroke="#333" stroke-width="1"/>
<circle cx="484.65" cy="176.6" r="1.25" fill="#222"/>
<circle cx="487.65" cy="176.6" r="1.25" fill="#222"/>
<line x1="470.5" y1="188.5" x2="482.8" y2="188.5" stroke="#333" stroke-width="1"/>
<line x1="470.5" y1="185.8" x2="470.5" y2="191.2" stroke="#333" stroke-width="1"/>
<line x1="482.8" y1="185.8" x2="482.8" y2="191.2" stroke="#333" stroke-width="1"/>
<circle cx="476.65" cy="185.4" r="1.25" fill="#222"/>
<line x1="498.5" y1="188.5" x2="511" y2="188.5" stroke="#333" stroke-width="1"/>
<line x1="498.5" y1="185.8" x2="498.5" y2="191.2" stroke="#333" stroke-width="1"/>
<line x1="511" y1="185.8" x2="511" y2="191.2" stroke="#333" stroke-width="1"/>
<circle cx="504.75" cy="185.4" r="1.25" fill="#222"/>
<text x="465.8" y="272.8" font-size="7.6" text-anchor="end" font-weight="normal" font-style="normal" fill="#111">Dex</text>
<text x="471.5" y="272.2" font-size="5.4" text-anchor="middle" font-weight="bold" font-style="normal" fill="#111">-</text>
<text x="481.2" y="272.2" font-size="5.4" text-anchor="middle" font-weight="bold" font-style="normal" fill="#111">-</text>
<text x="499.7" y="272" font-size="6.2" text-anchor="middle" font-weight="bold" font-style="normal" fill="#111">+</text>
<text x="509.2" y="272" font-size="6.2" text-anchor="middle" font-weight="bold" font-style="normal" fill="#111">+</text>
<text x="492.7" y="158.2" font-size="9.2" text-anchor="middle" font-weight="normal" font-style="normal" fill="#111">PreB</text>
<text transform="translate(446.5,218.2) rotate(-90)" x="0" y="2.59" font-size="7.2" text-anchor="middle" fill="#111">% of Caspase+</text>
<text x="1" y="291.1" font-size="11.2" text-anchor="start" font-weight="bold" font-style="normal" fill="#000">J</text>
<text x="113.5" y="290.8" font-size="11.2" text-anchor="start" font-weight="bold" font-style="normal" fill="#000">K</text>
<text x="300" y="290.8" font-size="11.2" text-anchor="start" font-weight="bold" font-style="normal" fill="#000">L</text>
<line x1="31.1" y1="351.2" x2="31.1" y2="346.6" stroke="#1a1a1a" stroke-width="1"/>
<line x1="29.5" y1="346.6" x2="32.7" y2="346.6" stroke="#1a1a1a" stroke-width="1"/>
<rect x="26.5" y="351.5" width="9.3" height="46" fill="#fff" stroke="#1a1a1a" stroke-width="1"/>
<line x1="31.1" y1="397.5" x2="31.1" y2="400.5" stroke="#1a1a1a" stroke-width="1"/>
<line x1="40.3" y1="363" x2="40.3" y2="360" stroke="#1a1a1a" stroke-width="1"/>
<line x1="38.7" y1="360" x2="41.9" y2="360" stroke="#1a1a1a" stroke-width="1"/>
<rect x="35.7" y="363" width="9.2" height="34.5" fill="#000"/>
<line x1="40.3" y1="397.5" x2="40.3" y2="400.5" stroke="#1a1a1a" stroke-width="1"/>
<line x1="59.2" y1="335.4" x2="59.2" y2="328" stroke="#1a1a1a" stroke-width="1"/>
<line x1="57.6" y1="328" x2="60.8" y2="328" stroke="#1a1a1a" stroke-width="1"/>
<rect x="54.5" y="335.5" width="9.4" height="62" fill="#fff" stroke="#1a1a1a" stroke-width="1"/>
<line x1="59.2" y1="397.5" x2="59.2" y2="400.5" stroke="#1a1a1a" stroke-width="1"/>
<line x1="68.2" y1="355" x2="68.2" y2="353" stroke="#1a1a1a" stroke-width="1"/>
<line x1="66.6" y1="353" x2="69.8" y2="353" stroke="#1a1a1a" stroke-width="1"/>
<rect x="63.8" y="355" width="8.8" height="42.5" fill="#000"/>
<line x1="68.2" y1="397.5" x2="68.2" y2="400.5" stroke="#1a1a1a" stroke-width="1"/>
<line x1="24.5" y1="310.8" x2="24.5" y2="398" stroke="#1a1a1a" stroke-width="1"/>
<line x1="24" y1="397.5" x2="75.4" y2="397.5" stroke="#1a1a1a" stroke-width="1"/>
<line x1="22.1" y1="397" x2="24.5" y2="397" stroke="#1a1a1a" stroke-width="1"/>
<text x="21.3" y="399.4" font-size="6.8" text-anchor="end" font-weight="normal" font-style="normal" fill="#111">0</text>
<line x1="22.1" y1="377.5" x2="24.5" y2="377.5" stroke="#1a1a1a" stroke-width="1"/>
<text x="21.3" y="379.9" font-size="6.8" text-anchor="end" font-weight="normal" font-style="normal" fill="#111">5</text>
<line x1="22.1" y1="357.9" x2="24.5" y2="357.9" stroke="#1a1a1a" stroke-width="1"/>
<text x="21.3" y="360.3" font-size="6.8" text-anchor="end" font-weight="normal" font-style="normal" fill="#111">10</text>
<line x1="22.1" y1="338.3" x2="24.5" y2="338.3" stroke="#1a1a1a" stroke-width="1"/>
<text x="21.3" y="340.7" font-size="6.8" text-anchor="end" font-weight="normal" font-style="normal" fill="#111">15</text>
<line x1="22.1" y1="318.3" x2="24.5" y2="318.3" stroke="#1a1a1a" stroke-width="1"/>
<text x="21.3" y="320.7" font-size="6.8" text-anchor="end" font-weight="normal" font-style="normal" fill="#111">20</text>
<line x1="41.5" y1="306.2" x2="72.6" y2="306.2" stroke="#333" stroke-width="1"/>
<line x1="41.5" y1="303.5" x2="41.5" y2="308.9" stroke="#333" stroke-width="1"/>
<line x1="72.6" y1="303.5" x2="72.6" y2="308.9" stroke="#333" stroke-width="1"/>
<circle cx="57.05" cy="303.1" r="1.25" fill="#222"/>
<line x1="30" y1="315.1" x2="61.5" y2="315.1" stroke="#333" stroke-width="1"/>
<line x1="30" y1="312.4" x2="30" y2="317.8" stroke="#333" stroke-width="1"/>
<line x1="61.5" y1="312.4" x2="61.5" y2="317.8" stroke="#333" stroke-width="1"/>
<circle cx="45.75" cy="312" r="1.25" fill="#222"/>
<line x1="30" y1="323.8" x2="42.3" y2="323.8" stroke="#333" stroke-width="1"/>
<line x1="30" y1="321.1" x2="30" y2="326.5" stroke="#333" stroke-width="1"/>
<line x1="42.3" y1="321.1" x2="42.3" y2="326.5" stroke="#333" stroke-width="1"/>
<circle cx="36.15" cy="320.7" r="1.25" fill="#222"/>
<line x1="60" y1="323.8" x2="72.6" y2="323.8" stroke="#333" stroke-width="1"/>
<line x1="60" y1="321.1" x2="60" y2="326.5" stroke="#333" stroke-width="1"/>
<line x1="72.6" y1="321.1" x2="72.6" y2="326.5" stroke="#333" stroke-width="1"/>
<circle cx="64.8" cy="320.7" r="1.25" fill="#222"/>
<circle cx="67.8" cy="320.7" r="1.25" fill="#222"/>
<text x="25" y="408.8" font-size="7.6" text-anchor="end" font-weight="normal" font-style="normal" fill="#111">Dex</text>
<text x="30.8" y="408.2" font-size="5.4" text-anchor="middle" font-weight="bold" font-style="normal" fill="#111">-</text>
<text x="40.3" y="408.2" font-size="5.4" text-anchor="middle" font-weight="bold" font-style="normal" fill="#111">-</text>
<text x="59.2" y="408" font-size="6.2" text-anchor="middle" font-weight="bold" font-style="normal" fill="#111">+</text>
<text x="68.5" y="408" font-size="6.2" text-anchor="middle" font-weight="bold" font-style="normal" fill="#111">+</text>
<text x="55.2" y="295.1" font-size="9.2" text-anchor="middle" font-weight="normal" font-style="normal" fill="#111">Immature B</text>
<text transform="translate(6.2,353.6) rotate(-90)" x="0" y="2.74" font-size="7.6" text-anchor="middle" fill="#111">% of Caspase+</text>
<line x1="144.05" y1="364.6" x2="144.05" y2="361.5" stroke="#1a1a1a" stroke-width="1"/>
<line x1="142.45" y1="361.5" x2="145.65" y2="361.5" stroke="#1a1a1a" stroke-width="1"/>
<rect x="139.5" y="364.5" width="9.5" height="33" fill="#fff" stroke="#1a1a1a" stroke-width="1"/>
<line x1="144.05" y1="397.5" x2="144.05" y2="400.5" stroke="#1a1a1a" stroke-width="1"/>
<line x1="153.55" y1="375.8" x2="153.55" y2="372.3" stroke="#1a1a1a" stroke-width="1"/>
<line x1="151.95" y1="372.3" x2="155.15" y2="372.3" stroke="#1a1a1a" stroke-width="1"/>
<rect x="148.9" y="375.8" width="9.3" height="21.7" fill="#000"/>
<line x1="153.55" y1="397.5" x2="153.55" y2="400.5" stroke="#1a1a1a" stroke-width="1"/>
<line x1="171.75" y1="363" x2="171.75" y2="357.4" stroke="#1a1a1a" stroke-width="1"/>
<line x1="170.15" y1="357.4" x2="173.35" y2="357.4" stroke="#1a1a1a" stroke-width="1"/>
<rect x="166.5" y="363.5" width="10.2" height="34" fill="#fff" stroke="#1a1a1a" stroke-width="1"/>
<line x1="171.75" y1="397.5" x2="171.75" y2="400.5" stroke="#1a1a1a" stroke-width="1"/>
<line x1="181.2" y1="375" x2="181.2" y2="373.4" stroke="#1a1a1a" stroke-width="1"/>
<line x1="179.6" y1="373.4" x2="182.8" y2="373.4" stroke="#1a1a1a" stroke-width="1"/>
<rect x="176.6" y="375" width="9.2" height="22.5" fill="#000"/>
<line x1="181.2" y1="397.5" x2="181.2" y2="400.5" stroke="#1a1a1a" stroke-width="1"/>
<line x1="136.5" y1="310.5" x2="136.5" y2="398" stroke="#1a1a1a" stroke-width="1"/>
<line x1="136" y1="397.5" x2="188.7" y2="397.5" stroke="#1a1a1a" stroke-width="1"/>
<line x1="134.1" y1="397" x2="136.5" y2="397" stroke="#1a1a1a" stroke-width="1"/>
<text x="133.6" y="399.4" font-size="6.8" text-anchor="end" font-weight="normal" font-style="normal" fill="#111">0</text>
<line x1="134.1" y1="377.5" x2="136.5" y2="377.5" stroke="#1a1a1a" stroke-width="1"/>
<text x="133.6" y="379.9" font-size="6.8" text-anchor="end" font-weight="normal" font-style="normal" fill="#111">5</text>
<line x1="134.1" y1="357.9" x2="136.5" y2="357.9" stroke="#1a1a1a" stroke-width="1"/>
<text x="133.6" y="360.3" font-size="6.8" text-anchor="end" font-weight="normal" font-style="normal" fill="#111">10</text>
<line x1="134.1" y1="338.3" x2="136.5" y2="338.3" stroke="#1a1a1a" stroke-width="1"/>
<text x="133.6" y="340.7" font-size="6.8" text-anchor="end" font-weight="normal" font-style="normal" fill="#111">15</text>
<line x1="134.1" y1="318.3" x2="136.5" y2="318.3" stroke="#1a1a1a" stroke-width="1"/>
<text x="133.6" y="320.7" font-size="6.8" text-anchor="end" font-weight="normal" font-style="normal" fill="#111">20</text>
<line x1="153.8" y1="306.2" x2="185.7" y2="306.2" stroke="#333" stroke-width="1"/>
<line x1="153.8" y1="303.5" x2="153.8" y2="308.9" stroke="#333" stroke-width="1"/>
<line x1="185.7" y1="303.5" x2="185.7" y2="308.9" stroke="#333" stroke-width="1"/>
<text x="169.75" y="304.4" font-size="6" text-anchor="middle" font-weight="normal" font-style="normal" fill="#222">N.S.</text>
<line x1="142.6" y1="314.9" x2="174.3" y2="314.9" stroke="#333" stroke-width="1"/>
<line x1="142.6" y1="312.2" x2="142.6" y2="317.6" stroke="#333" stroke-width="1"/>
<line x1="174.3" y1="312.2" x2="174.3" y2="317.6" stroke="#333" stroke-width="1"/>
<text x="158.45" y="313.1" font-size="6" text-anchor="middle" font-weight="normal" font-style="normal" fill="#222">N.S.</text>
<line x1="142.6" y1="323.8" x2="155.4" y2="323.8" stroke="#333" stroke-width="1"/>
<line x1="142.6" y1="321.1" x2="142.6" y2="326.5" stroke="#333" stroke-width="1"/>
<line x1="155.4" y1="321.1" x2="155.4" y2="326.5" stroke="#333" stroke-width="1"/>
<circle cx="149" cy="320.7" r="1.25" fill="#222"/>
<line x1="172.8" y1="323.8" x2="185.4" y2="323.8" stroke="#333" stroke-width="1"/>
<line x1="172.8" y1="321.1" x2="172.8" y2="326.5" stroke="#333" stroke-width="1"/>
<line x1="185.4" y1="321.1" x2="185.4" y2="326.5" stroke="#333" stroke-width="1"/>
<circle cx="179.1" cy="320.7" r="1.25" fill="#222"/>
<text x="137.7" y="409" font-size="7.6" text-anchor="end" font-weight="normal" font-style="normal" fill="#111">Dex</text>
<text x="144.3" y="408.4" font-size="5.4" text-anchor="middle" font-weight="bold" font-style="normal" fill="#111">-</text>
<text x="153.3" y="408.4" font-size="5.4" text-anchor="middle" font-weight="bold" font-style="normal" fill="#111">-</text>
<text x="171.4" y="408.2" font-size="6.2" text-anchor="middle" font-weight="bold" font-style="normal" fill="#111">+</text>
<text x="181" y="408.2" font-size="6.2" text-anchor="middle" font-weight="bold" font-style="normal" fill="#111">+</text>
<text x="163.8" y="294.7" font-size="9.2" text-anchor="middle" font-weight="normal" font-style="normal" fill="#111">Mature B</text>
<text transform="translate(119,353) rotate(-90)" x="0" y="2.74" font-size="7.6" text-anchor="middle" fill="#111">% of Caspase+</text>
<rect x="204" y="314.3" width="9.3" height="4" fill="#fff" stroke="#111" stroke-width="1"/>
<rect x="203.5" y="323.9" width="10.3" height="5" fill="#000"/>
<text x="218.6" y="319.2" font-size="7.8" text-anchor="start" font-weight="normal" font-style="normal" fill="#111">WT</text>
<text x="218.6" y="329.3" font-size="7.8" text-anchor="start" font-weight="normal" font-style="normal" fill="#111">KO</text>
<line x1="341.9" y1="393.5" x2="341.9" y2="392.4" stroke="#1a1a1a" stroke-width="1"/>
<line x1="340.3" y1="392.4" x2="343.5" y2="392.4" stroke="#1a1a1a" stroke-width="1"/>
<rect x="337.5" y="393.5" width="9.4" height="4" fill="#fff" stroke="#1a1a1a" stroke-width="1"/>
<line x1="341.9" y1="397.5" x2="341.9" y2="400.5" stroke="#1a1a1a" stroke-width="1"/>
<line x1="352.05" y1="393.8" x2="352.05" y2="393" stroke="#1a1a1a" stroke-width="1"/>
<line x1="350.45" y1="393" x2="353.65" y2="393" stroke="#1a1a1a" stroke-width="1"/>
<rect x="346.8" y="393.8" width="10.5" height="3.7" fill="#000"/>
<line x1="352.05" y1="397.5" x2="352.05" y2="400.5" stroke="#1a1a1a" stroke-width="1"/>
<line x1="367.55" y1="393.3" x2="367.55" y2="391.6" stroke="#1a1a1a" stroke-width="1"/>
<line x1="365.95" y1="391.6" x2="369.15" y2="391.6" stroke="#1a1a1a" stroke-width="1"/>
<rect x="362.5" y="393.5" width="10" height="4" fill="#fff" stroke="#1a1a1a" stroke-width="1"/>
<line x1="367.55" y1="397.5" x2="367.55" y2="400.5" stroke="#1a1a1a" stroke-width="1"/>
<line x1="377.55" y1="393.5" x2="377.55" y2="392.4" stroke="#1a1a1a" stroke-width="1"/>
<line x1="375.95" y1="392.4" x2="379.15" y2="392.4" stroke="#1a1a1a" stroke-width="1"/>
<rect x="372.4" y="393.5" width="10.3" height="4" fill="#000"/>
<line x1="377.55" y1="397.5" x2="377.55" y2="400.5" stroke="#1a1a1a" stroke-width="1"/>
<line x1="392.7" y1="366.2" x2="392.7" y2="362.3" stroke="#1a1a1a" stroke-width="1"/>
<line x1="391.1" y1="362.3" x2="394.3" y2="362.3" stroke="#1a1a1a" stroke-width="1"/>
<rect x="387.5" y="366.5" width="10.3" height="31" fill="#fff" stroke="#1a1a1a" stroke-width="1"/>
<line x1="392.7" y1="397.5" x2="392.7" y2="400.5" stroke="#1a1a1a" stroke-width="1"/>
<line x1="403.1" y1="335.8" x2="403.1" y2="328.2" stroke="#1a1a1a" stroke-width="1"/>
<line x1="401.5" y1="328.2" x2="404.7" y2="328.2" stroke="#1a1a1a" stroke-width="1"/>
<rect x="397.7" y="335.8" width="10.8" height="61.7" fill="#000"/>
<line x1="403.1" y1="397.5" x2="403.1" y2="400.5" stroke="#1a1a1a" stroke-width="1"/>
<line x1="418" y1="392" x2="418" y2="391" stroke="#1a1a1a" stroke-width="1"/>
<line x1="416.4" y1="391" x2="419.6" y2="391" stroke="#1a1a1a" stroke-width="1"/>
<rect x="413.5" y="392.5" width="9.6" height="5" fill="#fff" stroke="#1a1a1a" stroke-width="1"/>
<line x1="418" y1="397.5" x2="418" y2="400.5" stroke="#1a1a1a" stroke-width="1"/>
<line x1="428.4" y1="383.2" x2="428.4" y2="382" stroke="#1a1a1a" stroke-width="1"/>
<line x1="426.8" y1="382" x2="430" y2="382" stroke="#1a1a1a" stroke-width="1"/>
<rect x="423" y="383.2" width="10.8" height="14.3" fill="#000"/>
<line x1="428.4" y1="397.5" x2="428.4" y2="400.5" stroke="#1a1a1a" stroke-width="1"/>
<line x1="334.5" y1="310.5" x2="334.5" y2="398" stroke="#1a1a1a" stroke-width="1"/>
<line x1="334" y1="397.5" x2="437.2" y2="397.5" stroke="#1a1a1a" stroke-width="1"/>
<line x1="332.1" y1="397.3" x2="334.5" y2="397.3" stroke="#1a1a1a" stroke-width="1"/>
<text x="331.2" y="399.7" font-size="6.8" text-anchor="end" font-weight="normal" font-style="normal" fill="#111">0</text>
<line x1="332.1" y1="377.7" x2="334.5" y2="377.7" stroke="#1a1a1a" stroke-width="1"/>
<text x="331.2" y="380.1" font-size="6.8" text-anchor="end" font-weight="normal" font-style="normal" fill="#111">5</text>
<line x1="332.1" y1="358" x2="334.5" y2="358" stroke="#1a1a1a" stroke-width="1"/>
<text x="331.2" y="360.4" font-size="6.8" text-anchor="end" font-weight="normal" font-style="normal" fill="#111">10</text>
<line x1="332.1" y1="338.4" x2="334.5" y2="338.4" stroke="#1a1a1a" stroke-width="1"/>
<text x="331.2" y="340.8" font-size="6.8" text-anchor="end" font-weight="normal" font-style="normal" fill="#111">15</text>
<line x1="332.1" y1="318.3" x2="334.5" y2="318.3" stroke="#1a1a1a" stroke-width="1"/>
<text x="331.2" y="320.7" font-size="6.8" text-anchor="end" font-weight="normal" font-style="normal" fill="#111">20</text>
<line x1="402.6" y1="302" x2="427.7" y2="302" stroke="#333" stroke-width="1"/>
<line x1="402.6" y1="299.3" x2="402.6" y2="304.7" stroke="#333" stroke-width="1"/>
<line x1="427.7" y1="299.3" x2="427.7" y2="304.7" stroke="#333" stroke-width="1"/>
<circle cx="413.65" cy="298.9" r="1.25" fill="#222"/>
<circle cx="416.65" cy="298.9" r="1.25" fill="#222"/>
<line x1="390.8" y1="311.5" x2="415.8" y2="311.5" stroke="#333" stroke-width="1"/>
<line x1="390.8" y1="308.8" x2="390.8" y2="314.2" stroke="#333" stroke-width="1"/>
<line x1="415.8" y1="308.8" x2="415.8" y2="314.2" stroke="#333" stroke-width="1"/>
<circle cx="400.3" cy="308.4" r="1.25" fill="#222"/>
<circle cx="403.3" cy="308.4" r="1.25" fill="#222"/>
<circle cx="406.3" cy="308.4" r="1.25" fill="#222"/>
<line x1="390.8" y1="320.4" x2="403" y2="320.4" stroke="#333" stroke-width="1"/>
<line x1="390.8" y1="317.7" x2="390.8" y2="323.1" stroke="#333" stroke-width="1"/>
<line x1="403" y1="317.7" x2="403" y2="323.1" stroke="#333" stroke-width="1"/>
<circle cx="393.9" cy="317.3" r="1.25" fill="#222"/>
<circle cx="396.9" cy="317.3" r="1.25" fill="#222"/>
<circle cx="399.9" cy="317.3" r="1.25" fill="#222"/>
<line x1="415.4" y1="320.4" x2="427.7" y2="320.4" stroke="#333" stroke-width="1"/>
<line x1="415.4" y1="317.7" x2="415.4" y2="323.1" stroke="#333" stroke-width="1"/>
<line x1="427.7" y1="317.7" x2="427.7" y2="323.1" stroke="#333" stroke-width="1"/>
<circle cx="420.05" cy="317.3" r="1.25" fill="#222"/>
<circle cx="423.05" cy="317.3" r="1.25" fill="#222"/>
<text x="334.5" y="408" font-size="7.6" text-anchor="end" font-weight="normal" font-style="normal" fill="#111">Dex</text>
<text transform="translate(316,348.9) rotate(-90)" x="0" y="2.88" font-size="8" text-anchor="middle" fill="#111">Fold enrichment</text>
<text x="342.2" y="407.4" font-size="5.4" text-anchor="middle" font-weight="bold" font-style="normal" fill="#111">-</text>
<text x="352.4" y="407.4" font-size="5.4" text-anchor="middle" font-weight="bold" font-style="normal" fill="#111">-</text>
<text x="367.3" y="407.2" font-size="6.2" text-anchor="middle" font-weight="bold" font-style="normal" fill="#111">+</text>
<text x="377.6" y="407.2" font-size="6.2" text-anchor="middle" font-weight="bold" font-style="normal" fill="#111">+</text>
<text x="393" y="407.4" font-size="5.4" text-anchor="middle" font-weight="bold" font-style="normal" fill="#111">-</text>
<text x="403" y="407.4" font-size="5.4" text-anchor="middle" font-weight="bold" font-style="normal" fill="#111">-</text>
<text x="419.2" y="407.2" font-size="6.2" text-anchor="middle" font-weight="bold" font-style="normal" fill="#111">+</text>
<text x="429" y="407.2" font-size="6.2" text-anchor="middle" font-weight="bold" font-style="normal" fill="#111">+</text>
<line x1="338" y1="412.2" x2="381.2" y2="412.2" stroke="#333" stroke-width="1"/>
<line x1="389" y1="411.9" x2="433.5" y2="411.9" stroke="#333" stroke-width="1"/>
<text x="361.3" y="421" font-size="7.6" text-anchor="middle" font-weight="normal" font-style="normal" fill="#111">IgG</text>
<text x="411.8" y="420.8" font-size="7.6" text-anchor="middle" font-weight="normal" font-style="normal" fill="#111">NFkB</text>
<rect x="446.3" y="314.3" width="9.2" height="4.4" fill="#fff" stroke="#111" stroke-width="1"/>
<rect x="445.8" y="323.9" width="10.2" height="5.4" fill="#000"/>
<text x="461" y="319.2" font-size="7.8" text-anchor="start" font-weight="normal" font-style="normal" fill="#111">WT</text>
<text x="461" y="329.3" font-size="7.8" text-anchor="start" font-weight="normal" font-style="normal" fill="#111">KO</text>
</svg></body></html>
